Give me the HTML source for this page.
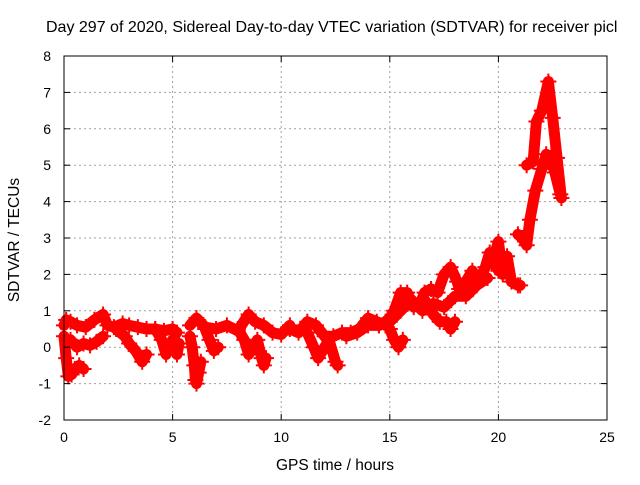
<!DOCTYPE html>
<html><head><meta charset="utf-8"><style>
body{margin:0;background:#fff}
svg text{font-family:"Liberation Sans",sans-serif;font-size:14px;fill:#000}
</style></head><body>
<svg id="chart" width="640" height="480" xmlns="http://www.w3.org/2000/svg">
<rect width="640" height="480" fill="#fff"/>
<text x="46" y="32" style="font-size:16px">Day 297 of 2020, Sidereal Day-to-day VTEC variation (SDTVAR) for receiver picl</text>
<g id="grid"></g><g id="marks"></g><g id="axes"></g>
<text x="335" y="470" text-anchor="middle" style="font-size:15.5px">GPS time / hours</text>
<text transform="translate(19,240) rotate(-90)" text-anchor="middle" style="font-size:15.5px">SDTVAR / TECUs</text>
</svg>
<script>
const xTicks=[0,5,10,15,20,25];
const yTicks=[-2,-1,0,1,2,3,4,5,6,7,8];
const trackTimes=[
[0,0.1,0.3,0.6,1,1.4,1.8,2,2.3,2.7,3,3.4,3.8,4.2,4.6,5,5.2],
[0,0.1,0.2,0.35,0.5,0.7,0.9],
[0.3,0.6,0.9,1.2,1.5,1.8],
[2.4,2.8,3.0,3.3,3.6,3.8],
[4.2,4.5,4.7,5.0,5.2,5.3],
[5.8,5.9,6.0,6.05,6.1,6.2,6.3],
[5.8,6.1,6.5,7,7.5,8,8.5,8.8,9.2,9.6,10,10.4],
[6.5,6.7,6.9,7.1],
[8.0,8.3,8.5,8.9,9.1,9.2,9.3],
[10.4,10.8,11.2,11.6,12,12.4,12.8,13.2,13.6,14,14.4,14.8],
[11.2,11.5,11.7,12.2,12.5,12.6],
[14.5,14.8,15.0,15.2,15.5,15.8,16.1,16.4,16.6,16.9,17.2,17.5,17.8,18.1,18.2],
[15.0,15.2,15.4,15.6],
[16.6,17.0,17.3,17.6,17.8,18.0],
[18.2,18.5,18.8,19.1,19.4,19.6,19.8,20.0],
[19.7,20.0,20.2,20.4,20.6,20.9,21.0],
[20.9,21.1,21.3,21.45,21.7,22.0,22.2,22.4,22.6,22.85],
[21.3,21.6,21.75,22.0,22.3,22.5,22.7,22.9],
[13.0,13.5,14.0,14.5,15.0,15.5,16.0,16.5,17.0,17.5,18.0,18.5,19.0,19.5]
];
const trackValues=[
[0.6,0.75,0.7,0.6,0.55,0.75,0.9,0.6,0.55,0.65,0.6,0.55,0.5,0.5,0.45,0.5,0.4],
[0.3,-0.3,-0.8,-0.75,-0.6,-0.5,-0.6],
[0.2,0.0,0.1,0.05,0.15,0.3],
[0.5,0.3,0.1,-0.1,-0.4,-0.2],
[0.5,0.2,-0.2,0.2,-0.2,0.1],
[0.3,0.0,-0.5,-0.9,-1.0,-0.7,-0.4],
[0.6,0.8,0.55,0.5,0.6,0.45,0.9,0.7,0.6,0.4,0.35,0.6],
[0.5,0.2,-0.1,0.0],
[0.5,0.2,-0.2,0.2,-0.3,-0.5,-0.3],
[0.5,0.4,0.7,0.6,0.3,0.3,0.4,0.4,0.5,0.8,0.7,0.6],
[0.4,0.0,-0.3,0.2,-0.4,-0.5],
[0.6,0.7,0.8,1.0,1.5,1.5,1.1,1.2,1.5,1.6,1.5,2.0,2.2,1.8,1.6],
[0.5,0.2,0.0,0.2],
[1.3,0.9,0.7,0.7,0.5,0.7],
[1.6,1.8,2.1,1.8,2.2,2.6,2.4,2.1],
[2.3,2.9,2.0,2.5,1.8,1.7,1.7],
[3.1,3.0,2.8,3.5,4.3,4.9,5.3,5.2,4.8,4.2],
[5.0,5.1,6.2,6.5,7.3,6.3,5.2,4.1],
[0.3,0.4,0.6,0.6,0.7,1.0,1.3,1.0,1.2,1.1,1.4,1.4,1.7,1.9]
];
const X=t=>64+t*(543/25), Y=v=>420-(v+2)*36.4;
const NS='http://www.w3.org/2000/svg';
const grid=document.getElementById('grid'),axes=document.getElementById('axes'),marks=document.getElementById('marks');
function mk(tag,attrs,parent){const e=document.createElementNS(NS,tag);for(const k in attrs)e.setAttribute(k,attrs[k]);parent.appendChild(e);return e;}
xTicks.forEach(t=>{
 if(t>0&&t<25){const g=mk('line',{x1:X(t),x2:X(t),y1:56,y2:420,stroke:'#a0a0a0','stroke-dasharray':'2,3'},grid);
 
 }
 const l=mk('text',{x:X(t),y:442,'text-anchor':'middle'},axes);l.textContent=t;
 
 
 mk('line',{x1:X(t),x2:X(t),y1:420,y2:414,stroke:'#000'},axes);mk('line',{x1:X(t),x2:X(t),y1:56,y2:62,stroke:'#000'},axes);
});
yTicks.forEach(v=>{
 if(v>-2&&v<8){const g=mk('line',{x1:64,x2:607,y1:Y(v),y2:Y(v),stroke:'#a0a0a0','stroke-dasharray':'2,3'},grid);
 
 }
 const l=mk('text',{x:51,y:Y(v)+5,'text-anchor':'end'},axes);l.textContent=v;
 
 
 mk('line',{x1:64,x2:70,y1:Y(v),y2:Y(v),stroke:'#000'},axes);mk('line',{x1:601,x2:607,y1:Y(v),y2:Y(v),stroke:'#000'},axes);
});
const frame=mk('rect',{x:64,y:56,width:543,height:364,fill:'none',stroke:'#000'},axes);


trackTimes.forEach((ts,i)=>{
 const vs=trackValues[i];
 const pts=ts.map((t,j)=>X(t)+','+Y(vs[j])).join(' ');
 const pl=mk('polyline',{points:pts,fill:'none',stroke:'#f00','stroke-width':11,'stroke-linejoin':'round','stroke-linecap':'round'},marks);
 
 
 ts.forEach((t,j)=>{
  const x=X(t),y=Y(vs[j]);
  const p=mk('path',{d:`M${x-8},${y}h16M${x},${y-8}v16`,stroke:'#f00','stroke-width':2},marks);
  
  
 });
});
</script>
</body></html>
